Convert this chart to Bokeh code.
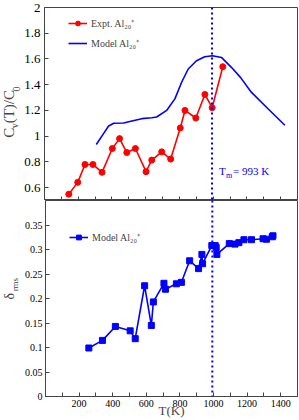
from math import pi
from bokeh.plotting import figure
from bokeh.models import (FixedTicker, Span, Label, Legend, LegendItem, Range1d,
                          CustomJSTickFormatter)
from bokeh.layouts import column, row
from bokeh.embed import file_html
from bokeh.resources import INLINE

# ---- data ----
expt_T = [144, 197, 240, 287, 341, 402, 445, 488, 539, 602, 636, 695, 748, 805, 833, 897, 951, 994, 1057]
expt_cv = [0.549, 0.641, 0.78, 0.78, 0.719, 0.904, 0.981, 0.873, 0.904, 0.724, 0.814, 0.878,
           0.822, 1.064, 1.20, 1.141, 1.324, 1.221, 1.54]

model_T = [307, 350, 380, 410, 469, 518, 577, 636, 665, 724, 773, 813, 852, 901, 950, 996,
           1049, 1108, 1163, 1226, 1325, 1425]
model_cv = [0.935, 1.02, 1.079, 1.10, 1.102, 1.118, 1.136, 1.143, 1.149, 1.20, 1.29, 1.419,
            1.522, 1.586, 1.617, 1.625, 1.612, 1.535, 1.455, 1.342, 1.213, 1.085]

rms_T = [258, 339, 416, 504, 534, 590, 630, 642, 705, 714, 779, 809, 858, 911, 931, 935, 990,
         1010, 1016, 1020, 1094, 1128, 1151, 1181, 1226, 1295, 1315, 1350, 1354]
rms_delta = [0.099, 0.1145, 0.143, 0.134, 0.118, 0.226, 0.145, 0.193, 0.231, 0.219, 0.23, 0.233,
             0.277, 0.261, 0.29, 0.271, 0.308, 0.308, 0.304, 0.29, 0.312, 0.311, 0.314, 0.32,
             0.32, 0.322, 0.321, 0.326, 0.328]

T_melt = 993

x_ticks = [200, 400, 600, 800, 1000, 1200, 1400]
x_minor_ticks = [100, 300, 500, 700, 900, 1100, 1300, 1500]
cv_ticks = [0.6, 0.8, 1.0, 1.2, 1.4, 1.6, 1.8, 2.0]
cv_tick_labels = ["0.6", "0.8", "1", "1.2", "1.4", "1.6", "1.8", "2"]
d_ticks = [0, 0.05, 0.1, 0.15, 0.2, 0.25, 0.3, 0.35]
d_tick_labels = ["0", "0.05", "0.1", "0.15", "0.2", "0.25", "0.3", "0.35"]

SERIF = "Liberation Serif"
RED = "#ff0000"
BLUE = "#0000ff"
AX = "#444444"

H1 = 200          # top row height
H2 = 220          # bottom row height
LW = 21           # width of the y-label strip
PW = 299 - LW     # width of the plots

FMT_CODE = """
for (let i = 0; i < tvals.length; i++) {
    if (Math.abs(tvals[i] - tick) < 1e-9) { return tlabels[i]; }
}
return "";
"""


def style_axes(p, xlabels, ylab_size, ystandoff):
    for ax in p.axis:
        ax.axis_line_color = AX
        ax.major_tick_line_color = AX
        ax.minor_tick_line_color = AX
        ax.major_tick_in = 4
        ax.major_tick_out = 0
        ax.minor_tick_in = 4
        ax.minor_tick_out = 0
        ax.major_label_text_font = SERIF
        ax.major_label_text_color = "black"
    p.xaxis.ticker = FixedTicker(ticks=x_ticks, minor_ticks=x_minor_ticks)
    if xlabels:
        p.xaxis.major_label_text_font_size = "10px"
        p.xaxis.major_label_standoff = 3
    else:
        p.xaxis.formatter = CustomJSTickFormatter(code='return "";')
        p.xaxis.major_label_text_font_size = "1px"
        p.xaxis.major_label_standoff = 0
    p.yaxis.major_label_text_font_size = ylab_size
    p.yaxis.major_label_standoff = ystandoff
    p.yaxis.minor_tick_line_color = None
    p.xgrid.visible = False
    p.ygrid.visible = False
    p.outline_line_color = AX
    p.outline_line_alpha = 1


def label_strip(height):
    s = figure(width=LW, height=height, output_backend="svg", toolbar_location=None,
               x_range=Range1d(0, LW), y_range=Range1d(height, 0),
               x_axis_location=None, y_axis_location=None,
               min_border_left=0, min_border_right=0, min_border_top=0, min_border_bottom=0)
    s.xgrid.visible = False
    s.ygrid.visible = False
    s.outline_line_color = None
    return s


def make_legend(items, vy):
    return Legend(items=items, location=(24, vy), border_line_color=None,
                  background_fill_alpha=0, label_text_font=SERIF, label_text_font_size="10px",
                  glyph_width=19, glyph_height=12, label_height=12, spacing=6,
                  padding=6, margin=0, label_standoff=4)


# ---- top panel ----
p1 = figure(width=PW, height=H1, output_backend="svg", toolbar_location=None,
            x_range=Range1d(0, 1500), y_range=Range1d(0.5, 2.0),
            min_border_left=21, min_border_right=2, min_border_top=7, min_border_bottom=0)
style_axes(p1, False, "13px", 4)
p1.yaxis.ticker = FixedTicker(ticks=cv_ticks)
p1.yaxis.formatter = CustomJSTickFormatter(args=dict(tvals=cv_ticks, tlabels=cv_tick_labels),
                                           code=FMT_CODE)

p1.add_layout(Span(location=T_melt, dimension="height", line_color=BLUE,
                   line_dash="2 3", line_width=2))
r_model = p1.line(model_T, model_cv, line_color=BLUE, line_width=1.6)
r_el = p1.line(expt_T, expt_cv, line_color=RED, line_width=1.6)
r_ec = p1.scatter(expt_T, expt_cv, marker="circle", size=6, fill_color=RED, line_color=RED)

p1.add_layout(make_legend([LegendItem(label="Expt. Al\u2082\u2080\u207a", renderers=[r_el, r_ec]),
                           LegendItem(label="Model Al\u2082\u2080\u207a", renderers=[r_model])],
                          150))

# Tm annotation
p1.add_layout(Label(x=1035, y=0.685, text="T", text_font=SERIF, text_font_size="11px",
                    text_color=BLUE))
p1.add_layout(Label(x=1035, y=0.685, x_offset=7, y_offset=-3, text="m", text_font=SERIF,
                    text_font_size="8px", text_color=BLUE))
p1.add_layout(Label(x=1035, y=0.685, x_offset=14, text="= 993 K", text_font=SERIF,
                    text_font_size="11px", text_color=BLUE))

# y label strip  C_v(T)/C_0
L1 = label_strip(H1)
L1.add_layout(Label(x=16.5, y=135, text="C", angle=pi / 2, text_font=SERIF,
                    text_font_size="15px"))
L1.add_layout(Label(x=19, y=125, text="v", angle=pi / 2, text_font=SERIF,
                    text_font_size="10px"))
L1.add_layout(Label(x=16.5, y=120, text="(T)/C", angle=pi / 2, text_font=SERIF,
                    text_font_size="15px"))
L1.add_layout(Label(x=19, y=87, text="0", angle=pi / 2, text_font=SERIF,
                    text_font_size="10px"))

# ---- bottom panel ----
p2 = figure(width=PW, height=H2, output_backend="svg", toolbar_location=None,
            x_range=p1.x_range, y_range=Range1d(0, 0.4),
            min_border_left=21, min_border_right=2, min_border_top=0, min_border_bottom=0)
style_axes(p2, True, "10px", 3)
p2.yaxis.ticker = FixedTicker(ticks=d_ticks)
p2.yaxis.formatter = CustomJSTickFormatter(args=dict(tvals=d_ticks, tlabels=d_tick_labels),
                                           code=FMT_CODE)
p2.xaxis.axis_label = "T(K)"
p2.xaxis.axis_label_text_font = SERIF
p2.xaxis.axis_label_text_font_size = "13px"
p2.xaxis.axis_label_text_font_style = "normal"
p2.xaxis.axis_label_standoff = -7

p2.add_layout(Span(location=T_melt, dimension="height", line_color=BLUE,
                   line_dash="2 3", line_width=2))
r_rl = p2.line(rms_T, rms_delta, line_color=BLUE, line_width=1.6)
r_rs = p2.scatter(rms_T, rms_delta, marker="square", size=6, fill_color=BLUE, line_color=BLUE)

p2.add_layout(make_legend([LegendItem(label="Model Al\u2082\u2080\u207a",
                                      renderers=[r_rl, r_rs])], 152))

# y label strip delta_rms
L2 = label_strip(H2)
L2.add_layout(Label(x=16.5, y=111, text="\u03b4", angle=pi / 2, text_font=SERIF,
                    text_font_size="14px"))
L2.add_layout(Label(x=19.5, y=102, text="rms", angle=pi / 2, text_font=SERIF,
                    text_font_size="9px"))

layout = column(row(L1, p1, spacing=0), row(L2, p2, spacing=0), spacing=0)
open("out.html", "w").write(file_html(layout, INLINE))
